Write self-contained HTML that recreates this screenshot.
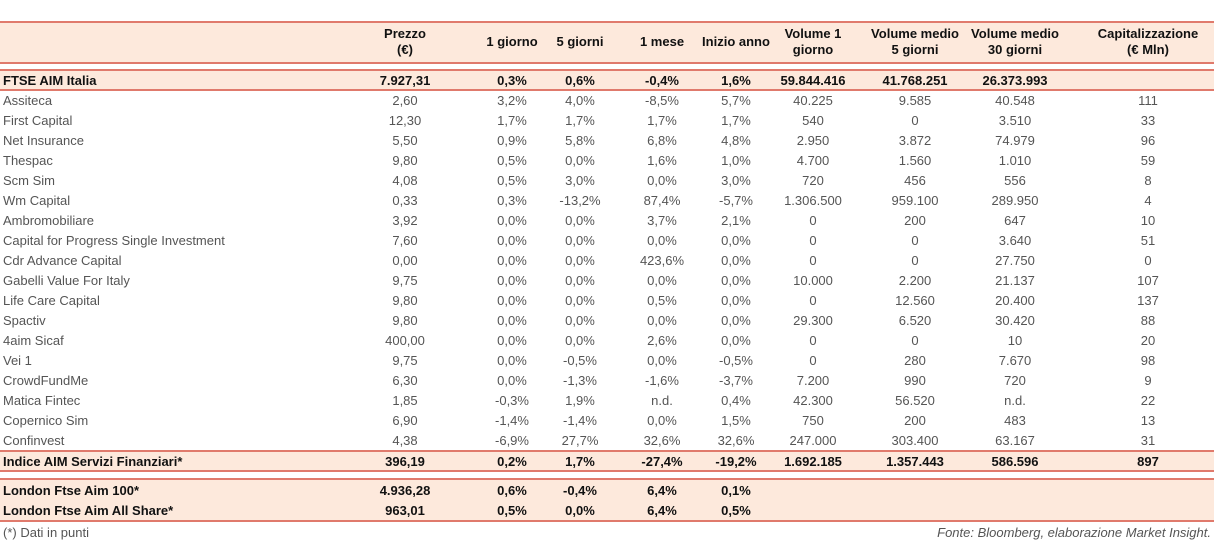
<!DOCTYPE html>
<html><head><meta charset="utf-8"><style>
body{margin:0;width:1215px;height:543px;background:#fff;position:relative;overflow:hidden;font-family:"Liberation Sans",sans-serif;font-size:13px;color:#555}
.band{position:absolute;left:0;width:1214px;background:#fde9dc}
.ln{position:absolute;left:0;width:1214px;height:2px;background:#e07a6c}
.c{position:absolute;white-space:nowrap;text-align:center;transform:translateX(-50%)}
.n{position:absolute;left:3px;white-space:nowrap}
.b{font-weight:bold;color:#111}
.h{font-weight:bold;color:#111;line-height:16px}
</style></head><body>
<div id="root"></div>
<script>
const colX=[405,512,580,662,736,813,915,1015,1148];
const headers=["Prezzo<br>(€)","1 giorno","5 giorni","1 mese","Inizio anno","Volume 1<br>giorno","Volume medio<br>5 giorni","Volume medio<br>30 giorni","Capitalizzazione<br>(€ Mln)"];
const ftseRow=["FTSE AIM Italia","7.927,31","0,3%","0,6%","-0,4%","1,6%","59.844.416","41.768.251","26.373.993",""];
const stockRows=[
["Assiteca","2,60","3,2%","4,0%","-8,5%","5,7%","40.225","9.585","40.548","111"],
["First Capital","12,30","1,7%","1,7%","1,7%","1,7%","540","0","3.510","33"],
["Net Insurance","5,50","0,9%","5,8%","6,8%","4,8%","2.950","3.872","74.979","96"],
["Thespac","9,80","0,5%","0,0%","1,6%","1,0%","4.700","1.560","1.010","59"],
["Scm Sim","4,08","0,5%","3,0%","0,0%","3,0%","720","456","556","8"],
["Wm Capital","0,33","0,3%","-13,2%","87,4%","-5,7%","1.306.500","959.100","289.950","4"],
["Ambromobiliare","3,92","0,0%","0,0%","3,7%","2,1%","0","200","647","10"],
["Capital for Progress Single Investment","7,60","0,0%","0,0%","0,0%","0,0%","0","0","3.640","51"],
["Cdr Advance Capital","0,00","0,0%","0,0%","423,6%","0,0%","0","0","27.750","0"],
["Gabelli Value For Italy","9,75","0,0%","0,0%","0,0%","0,0%","10.000","2.200","21.137","107"],
["Life Care Capital","9,80","0,0%","0,0%","0,5%","0,0%","0","12.560","20.400","137"],
["Spactiv","9,80","0,0%","0,0%","0,0%","0,0%","29.300","6.520","30.420","88"],
["4aim Sicaf","400,00","0,0%","0,0%","2,6%","0,0%","0","0","10","20"],
["Vei 1","9,75","0,0%","-0,5%","0,0%","-0,5%","0","280","7.670","98"],
["CrowdFundMe","6,30","0,0%","-1,3%","-1,6%","-3,7%","7.200","990","720","9"],
["Matica Fintec","1,85","-0,3%","1,9%","n.d.","0,4%","42.300","56.520","n.d.","22"],
["Copernico Sim","6,90","-1,4%","-1,4%","0,0%","1,5%","750","200","483","13"],
["Confinvest","4,38","-6,9%","27,7%","32,6%","32,6%","247.000","303.400","63.167","31"]];
const indexRow=["Indice AIM Servizi Finanziari*","396,19","0,2%","1,7%","-27,4%","-19,2%","1.692.185","1.357.443","586.596","897"];
const londonRows=[["London Ftse Aim 100*","4.936,28","0,6%","-0,4%","6,4%","0,1%","","","",""],
["London Ftse Aim All Share*","963,01","0,5%","0,0%","6,4%","0,5%","","","",""]];
const root=document.getElementById('root');
function mk(cls,top,h,name){const d=document.createElement('div');d.className=cls;d.style.top=top+'px';if(h)d.style.height=h+'px';


root.appendChild(d);return d;}
mk('band',21,43,'header-band');mk('band',70,21,'ftse-band');mk('band',451,21,'index-band');mk('band',479,42,'london-band');
[21,62,69,89,450,470,478,520].forEach((y,i)=>{mk('ln',y,0,'rule-line');});
headers.forEach((t,i)=>{const d=mk('c h',26,0,'column-header');d.style.left=colX[i]+'px';d.innerHTML=t;
if(t.indexOf('<br>')<0)d.style.top='34px';});
function row(r,y,bold,name){const n=mk('n'+(bold?' b':''),y,0,name+'-label');n.textContent=r[0];
for(let i=1;i<r.length;i++){if(!r[i])continue;const d=mk('c'+(bold?' b':''),y,0,name+'-value');d.style.left=colX[i-1]+'px';d.textContent=r[i];}}
row(ftseRow,73,true,'ftse-row');
stockRows.forEach((r,k)=>row(r,93+k*20,false,'stock-row'));
row(indexRow,454,true,'index-row');
londonRows.forEach((r,k)=>row(r,483+k*20,true,'london-row'));
const f1=mk('n',525,0,'footnote');f1.textContent='(*) Dati in punti';
const f2=mk('n',525,0,'source-note');f2.style.left='auto';f2.style.right='4px';f2.style.fontStyle='italic';f2.textContent='Fonte: Bloomberg, elaborazione Market Insight.';
</script>
</body></html>
